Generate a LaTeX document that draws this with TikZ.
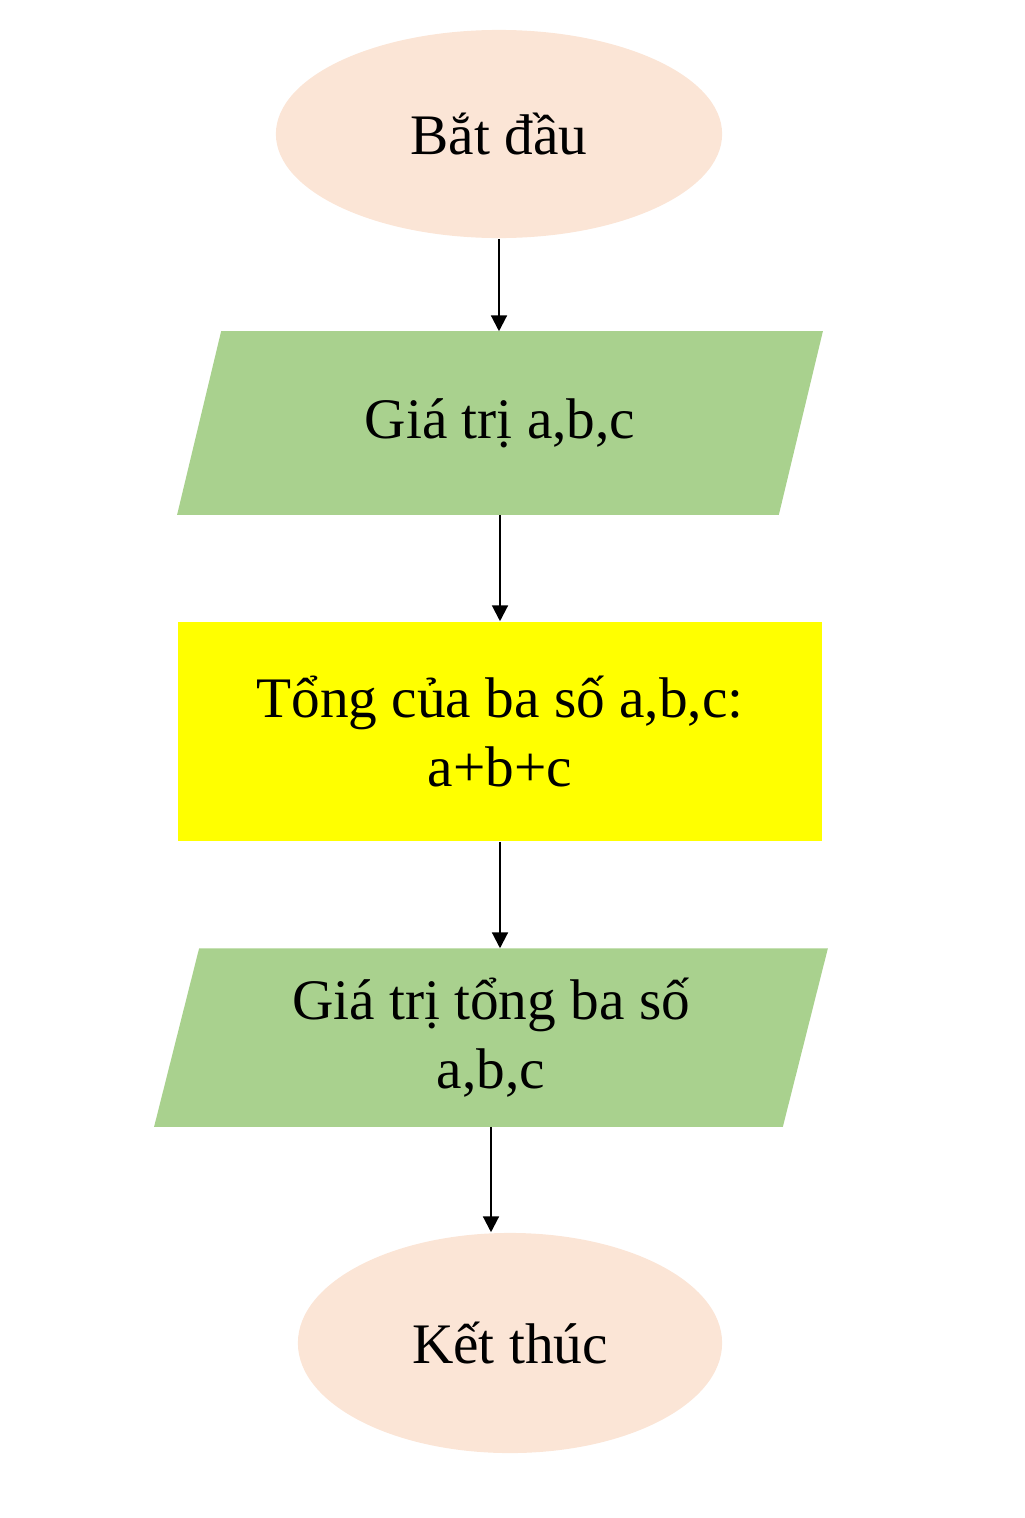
\documentclass[tikz,border=0pt]{standalone}
\usepackage{fontspec}
\setmainfont{Liberation Serif}
\usetikzlibrary{shapes.geometric,arrows.meta,backgrounds}
\definecolor{termfill}{HTML}{FBE5D6}
\definecolor{iofill}{HTML}{A9D18E}
\definecolor{procfill}{HTML}{FFFF00}
\begin{document}
\begin{tikzpicture}[x=0.01cm,y=-0.01cm,
  every node/.style={font=\fontsize{16.3}{19.8}\selectfont,align=center,inner sep=0pt},
  terminal/.style={ellipse,fill=termfill},
  io/.style={rectangle,minimum width=6.2cm},
  process/.style={rectangle,fill=procfill},
  slant/.style={fill=iofill},
  flow/.style={draw,line width=0.6pt,-{Triangle[length=4.5pt,width=4.5pt]}}]
\useasboundingbox (0,0) rectangle (1024,1518);

\node[terminal,minimum width=4.46cm,minimum height=2.08cm] (start) at (499,134) {Bắt đầu};
\node[io,minimum width=6cm,minimum height=1.82cm] (input) at (500,423) {Giá trị a,b,c};
\node[process,minimum width=6.44cm,minimum height=2.19cm] (sum) at (500,731.5) {Tổng của ba số a,b,c:\\a+b+c};
\node[io,minimum width=6.27cm,minimum height=1.77cm] (output) at (491,1037.5) {Giá trị tổng ba số\\a,b,c};
\node[terminal,minimum width=4.24cm,minimum height=2.20cm] (stop) at (510,1343) {Kết thúc};

% parallelograms behind the io nodes
\begin{scope}[on background layer]
\fill[slant] ([xshift=-0.22cm]input.south west) -- ([xshift=-0.22cm]input.south east)
  -- ([xshift=0.22cm]input.north east) -- ([xshift=0.22cm]input.north west) -- cycle;
\fill[slant] ([xshift=-0.225cm]output.south west) -- ([xshift=-0.225cm]output.south east)
  -- ([xshift=0.225cm]output.north east) -- ([xshift=0.225cm]output.north west) -- cycle;
\end{scope}

\path[flow] (start.south) -- (start.south |- input.north);
\path[flow] (input.south) -- (input.south |- sum.north);
\path[flow] (sum.south) -- (sum.south |- output.north);
\path[flow] (output.south) -- (output.south |- stop.north);
\end{tikzpicture}
\end{document}
